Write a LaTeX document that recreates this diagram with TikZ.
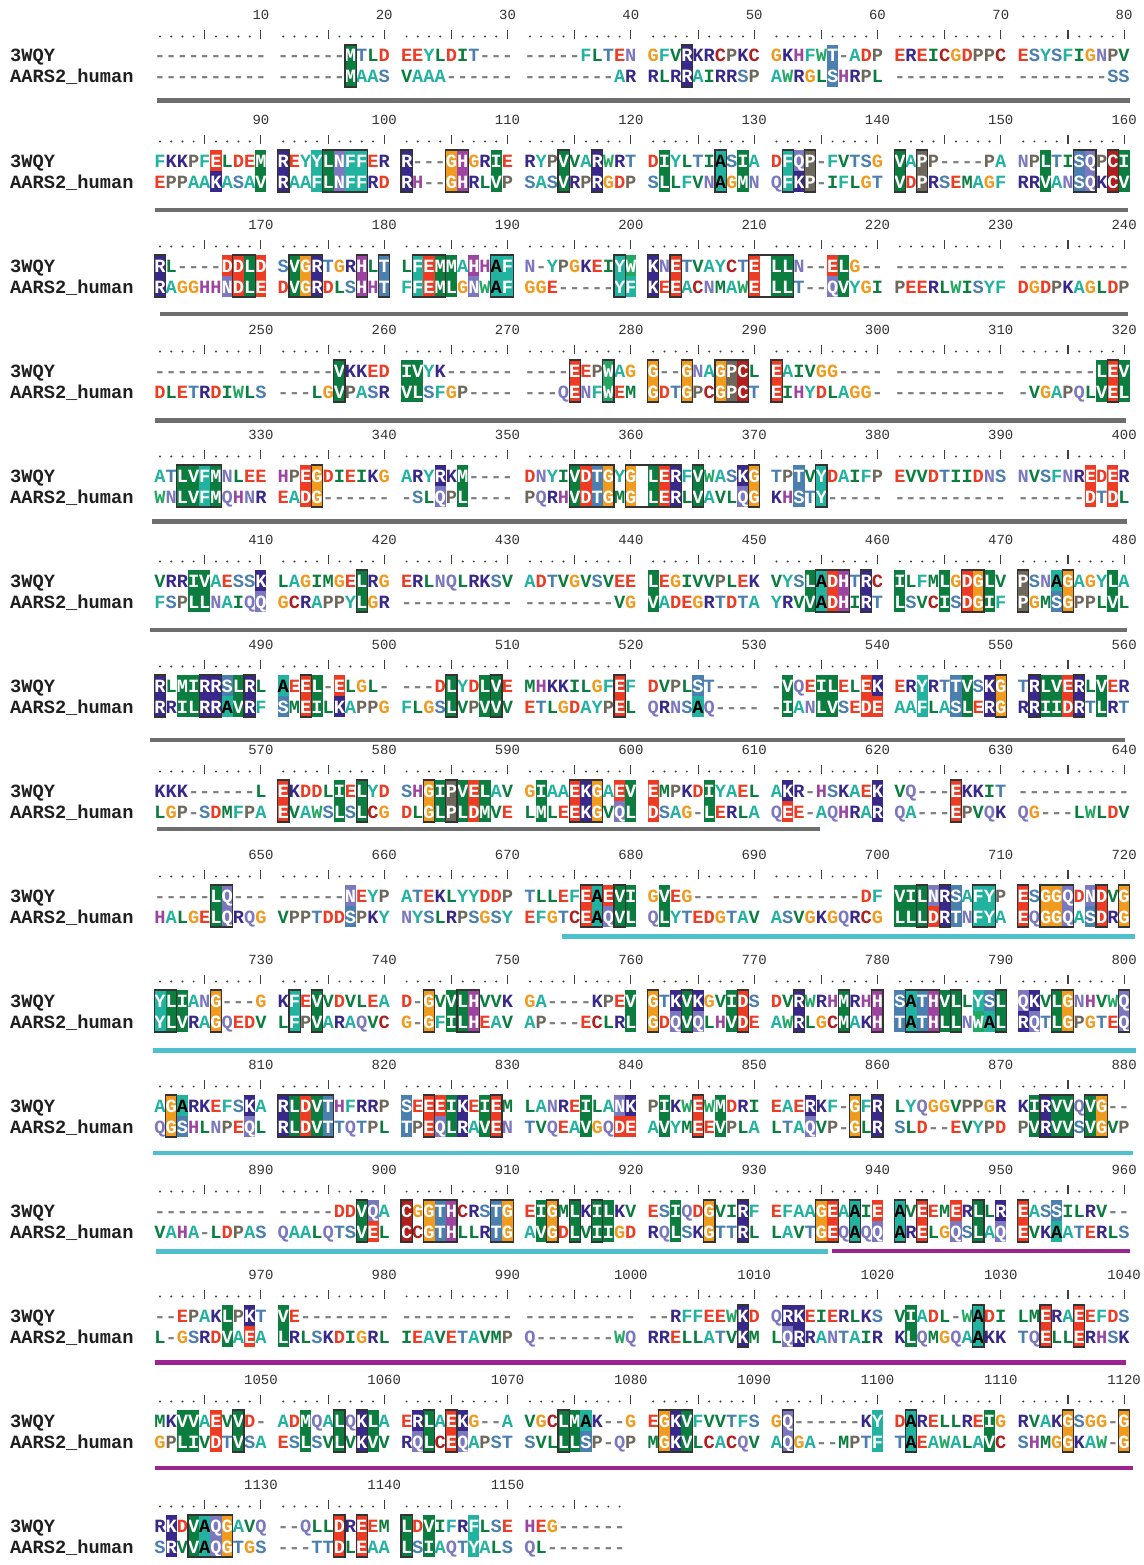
\documentclass[tikz,border=0pt]{standalone}
\usepackage{fontspec}
\usepackage{xstring}
\newfontfamily\monofont{Liberation Mono}
\usetikzlibrary{positioning}

% colores de los residuos
\definecolor{resA}{HTML}{22B2A0}
\colorlet{resF}{resA}
\colorlet{resY}{resA}
\definecolor{resW}{HTML}{23A862}
\definecolor{resI}{HTML}{0B7D3E}
\colorlet{resL}{resI}
\colorlet{resM}{resI}
\colorlet{resV}{resI}
\definecolor{resC}{HTML}{B01E1E}
\definecolor{resD}{HTML}{EE3B24}
\colorlet{resE}{resD}
\definecolor{resG}{HTML}{F09A1E}
\definecolor{resH}{HTML}{9C449F}
\definecolor{resK}{HTML}{38288A}
\colorlet{resR}{resK}
\definecolor{resN}{HTML}{7C78C0}
\colorlet{resQ}{resN}
\definecolor{resP}{HTML}{6E685C}
\definecolor{resS}{HTML}{4A7FB0}
\colorlet{resT}{resS}
\definecolor{gapgray}{HTML}{808080}
\definecolor{bargray}{HTML}{6E6E6E}
\definecolor{barcyan}{HTML}{4DBFCF}
\definecolor{barpurple}{HTML}{9B2490}

% pares de residuos similares
\newcommand\simpar[2]{\expandafter\def\csname sim@#1#2\endcsname{}%
  \expandafter\def\csname sim@#2#1\endcsname{}}
\simpar AS \simpar RK \simpar RQ \simpar ND \simpar NH \simpar NS
\simpar DE \simpar QE \simpar QK \simpar EK \simpar HY \simpar IL
\simpar IM \simpar IV \simpar LM \simpar LV \simpar MV \simpar FW
\simpar FY \simpar ST \simpar WY

\def\gapchar{-}
\def\letA{A}

% identidad de la columna #3
\newcommand\testidn[3]{%
  \StrChar{#1}{#3}[\ta]\StrChar{#2}{#3}[\tb]%
  \def\isid{0}%
  \ifx\ta\tb\ifx\ta\gapchar\else\ifx\ta\empty\else\def\isid{1}\fi\fi\fi}

\pgfdeclarelayer{frente}
\pgfsetlayers{main,frente}

\tikzset{
  res/.style={anchor=base,inner sep=0pt,font=\monofont\bfseries\fontsize{18.75}{20}\selectfont},
  seqname/.style={anchor=base west,inner sep=0pt,text=black!88,font=\monofont\bfseries\fontsize{18.75}{20}\selectfont},
  numlab/.style={inner sep=0pt,text=black!80,font=\monofont\fontsize{14}{16}\selectfont},
  tick/.style={line width=1.1bp,black!75},
  caja/.style={line width=1.2bp,black!80},
  bar/.style={line width=4.5bp}
}

% un bloque del alineamiento
\newcommand\alnblock[4]{% #1 bloque, #2 3WQY, #3 AARS2, #4 columnas
  \StrDel{#2}{ }[\sqa]\StrDel{#3}{ }[\sqb]%
  \pgfmathsetmacro\yb{105*#1}
  \node[seqname] (q#1) at (10,\yb+62) {3WQY};
  \node[seqname] (h#1) at (10,\yb+83) {AARS2\_human};
  \foreach \i in {1,...,#4}{
    \pgfmathsetmacro\xc{160+(\i-1+floor((\i-1)/10))*11.21}
    % regla
    \pgfmathtruncatemacro\mc{mod(\i,5)}
    \ifnum\mc=0
      \draw[tick] (\xc,\yb+30) -- (\xc,\yb+39);
    \else
      \fill[black!75] (\xc,\yb+36.5) circle[radius=1.1bp];
    \fi
    \pgfmathtruncatemacro\md{mod(\i,10)}
    \ifnum\md=0
      \pgfmathtruncatemacro\num{80*#1+\i}
      \node[numlab] (n#1-\i) at (\xc,\yb+15) {\num};
    \fi
    % residuos
    \StrChar{\sqa}{\i}[\ca]\StrChar{\sqb}{\i}[\cb]
    \testidn{\sqa}{\sqb}{\i}\let\curid\isid
    \pgfmathtruncatemacro\ipv{\i-1}\testidn{\sqa}{\sqb}{\ipv}\let\prvid\isid
    \pgfmathtruncatemacro\inx{\i+1}\testidn{\sqa}{\sqb}{\inx}\let\nxtid\isid
    \def\issim{0}
    \ifx\ca\gapchar\else\ifx\cb\gapchar\else
      \ifcsname sim@\ca\cb\endcsname\def\issim{1}\fi\fi\fi
    \ifx\ca\gapchar\def\tca{gapgray}\else\edef\tca{res\ca}\fi
    \ifx\cb\gapchar\def\tcb{gapgray}\else\edef\tcb{res\cb}\fi
    \ifnum\curid=1
      \fill[fill=\tca] (\xc-5.6,\yb+45) rectangle (\xc+5.6,\yb+87);
      \def\tca{white}\def\tcb{white}
      \ifx\ca\letA\def\tca{black}\def\tcb{black}\fi
    \else\ifnum\issim=1
      \fill[fill=\tca] (\xc-5.6,\yb+45) rectangle (\xc+5.6,\yb+66);
      \fill[fill=\tcb] (\xc-5.6,\yb+66) rectangle (\xc+5.6,\yb+87);
      \ifx\ca\letA\def\tca{black}\else\def\tca{white}\fi
      \ifx\cb\letA\def\tcb{black}\else\def\tcb{white}\fi
    \fi\fi
    \node[res,text=\tca] (a#1-\i) at (\xc,\yb+62) {\ca};
    \node[res,text=\tcb] (b#1-\i) at (\xc,\yb+83) {\cb};
    % marco de las columnas identicas
    \ifnum\curid=1
      \ifnum\prvid=0 \xdef\runx{\xc}\fi
      \ifnum\nxtid=0
        \begin{pgfonlayer}{frente}
          \draw[caja] (\runx-5.6,\yb+45) rectangle (\xc+5.6,\yb+87);
        \end{pgfonlayer}
      \fi
    \fi
  }
}

\begin{document}
\begin{tikzpicture}[x=1bp,y=-1bp]
  \fill[white] (0,0) rectangle (1143,1565);
  \useasboundingbox (0,0) rectangle (1143,1565);

  % Dibuja los bloques
  \alnblock{0}{---------- ------MTLD EEYLDIT--- -----FLTEN GFVRKRCPKC GKHFWT-ADP EREICGDPPC ESYSFIGNPV}
              {---------- ------MAAS VAAA------ --------AR RLRRAIRRSP AWRGLSHRPL ---------- --------SS}{80}
  \alnblock{1}{FKKPFELDEM REYYLNFFER R---GHGRIE RYPVVARWRT DIYLTIASIA DFQP-FVTSG VAPP----PA NPLTISQPCI}
              {EPPAAKASAV RAAFLNFFRD RH--GHRLVP SASVRPRGDP SLLFVNAGMN QFKP-IFLGT VDPRSEMAGF RRVANSQKCV}{80}
  \alnblock{2}{RL----DDLD SVGRTGRHLT LFEMMAHHAF N-YPGKEIYW KNETVAYCTE LLN--ELG-- ---------- ----------}
              {RAGGHHNDLE DVGRDLSHHT FFEMLGNWAF GGE-----YF KEEACNMAWE LLT--QVYGI PEERLWISYF DGDPKAGLDP}{80}
  \alnblock{3}{---------- -----VKKED IVYK------ ----EEPWAG G--GNAGPCL EAIVGG---- ---------- -------LEV}
              {DLETRDIWLS ---LGVPASR VLSFGP---- ---QENFWEM GDTGPCGPCT EIHYDLAGG- ---------- -VGAPQLVEL}{80}
  \alnblock{4}{ATLVFMNLEE HPEGDIEIKG ARYRKM---- DNYIVDTGYG LERFVWASKG TPTVYDAIFP EVVDTIIDNS NVSFNREDER}
              {WNLVFMQHNR EADG------ -SLQPL---- PQRHVDTGMG LERLVAVLQG KHSTY----- ---------- ------DTDL}{80}
  \alnblock{5}{VRRIVAESSK LAGIMGELRG ERLNQLRKSV ADTVGVSVEE LEGIVVPLEK VYSLADHTRC ILFMLGDGLV PSNAGAGYLA}
              {FSPLLNAIQQ GCRAPPYLGR ---------- --------VG VADEGRTDTA YRVVADHIRT LSVCISDGIF PGMSGPPLVL}{80}
  \alnblock{6}{RLMIRRSLRL AEEL-ELGL- ---DLYDLVE MHKKILGFEF DVPLST---- -VQEILELEK ERYRTTVSKG TRLVERLVER}
              {RRILRRAVRF SMEILKAPPG FLGSLVPVVV ETLGDAYPEL QRNSAQ---- -IANLVSEDE AAFLASLERG RRIIDRTLRT}{80}
  \alnblock{7}{KKK------L EKDDLIELYD SHGIPVELAV GIAAEKGAEV EMPKDIYAEL AKR-HSKAEK VQ---EKKIT ----------}
              {LGP-SDMFPA EVAWSLSLCG DLGLPLDMVE LMLEEKGVQL DSAG-LERLA QEE-AQHRAR QA---EPVQK QG---LWLDV}{80}
  \alnblock{8}{-----LQ--- ------NEYP ATEKLYYDDP TLLEFEAEVI GVEG------ --------DF VILNRSAFYP ESGGQDNDVG}
              {HALGELQRQG VPPTDDSPKY NYSLRPSGSY EFGTCEAQVL QLYTEDGTAV ASVGKGQRCG LLLDRTNFYA EQGGQASDRG}{80}
  \alnblock{9}{YLIANG---G KFEVVDVLEA D-GVVLHVVK GA----KPEV GTKVKGVIDS DVRWRHMRHH SATHVLLYSL QKVLGNHVWQ}
              {YLVRAGQEDV LFPVARAQVC G-GFILHEAV AP---ECLRL GDQVQLHVDE AWRLGCMAKH TATHLLNWAL RQTLGPGTEQ}{80}
  \alnblock{10}{AGARKEFSKA RLDVTHFRRP SEEEIKEIEM LANREILANK PIKWEWMDRI EAERKF-GFR LYQGGVPPGR KIRVVQVG--}
               {QGSHLNPEQL RLDVTTQTPL TPEQLRAVEN TVQEAVGQDE AVYMEEVPLA LTAQVP-GLR SLD--EVYPD PVRVVSVGVP}{80}
  \alnblock{11}{---------- -----DDVQA CGGTHCRSTG EIGMLKILKV ESIQDGVIRF EFAAGEAAIE AVEEMERLLR EASSILRV--}
               {VAHA-LDPAS QAALQTSVEL CCGTHLLRTG AVGDLVIIGD RQLSKGTTRL LAVTGEQAQQ ARELGQSLAQ EVKAATERLS}{80}
  \alnblock{12}{--EPAKLPKT VE-------- ---------- ---------- --RFFEEWKD QRKEIERLKS VIADL-WADI LMERAEEFDS}
               {L-GSRDVAEA LRLSKDIGRL IEAVETAVMP Q-------WQ RRELLATVKM LQRRANTAIR KLQMGQAAKK TQELLERHSK}{80}
  \alnblock{13}{MKVVAEVVD- ADMQALQKLA ERLAEKG--A VGCLMAK--G EGKVFVVTFS GQ------KY DARELLREIG RVAKGSGG-G}
               {GPLIVDTVSA ESLSVLVKVV RQLCEQAPST SVLLLSP-QP MGKVLCACQV AQGA--MPTF TAEAWALAVC SHMGGKAW-G}{80}
  \alnblock{14}{RKDVAQGAVQ --QLLDREEM LDVIFRFLSE HEG------}
               {SRVVAQGTGS ---TTDLEAA LSIAQTYALS QL-------}{39}

  % Dibuja las barras de dominios
  \draw[bar,bargray] (157,100.7) -- (1130,100.7);
  \draw[bar,bargray] (155,210) -- (1128,210);
  \draw[bar,bargray] (160,314) -- (1128,314);
  \draw[bar,bargray] (155,420.5) -- (1126,420.5);
  \draw[bar,bargray] (152,521.7) -- (1127,521.7);
  \draw[bar,bargray] (150,630) -- (1127,630);
  \draw[bar,bargray] (150,740) -- (1125,740);
  \draw[bar,bargray] (157,829) -- (820,829);
  \draw[bar,barcyan] (562,936.7) -- (1135,936.7);
  \draw[bar,barcyan] (153,1050.7) -- (1136,1050.7);
  \draw[bar,barcyan] (153,1153) -- (1133,1153);
  \draw[bar,barcyan] (156,1251.5) -- (828,1251.5);
  \draw[bar,barpurple] (832,1251) -- (1130,1251);
  \draw[bar,barpurple] (155,1362.7) -- (1126,1362.7);
  \draw[bar,barpurple] (155,1468) -- (1133,1468);
\end{tikzpicture}
\end{document}
